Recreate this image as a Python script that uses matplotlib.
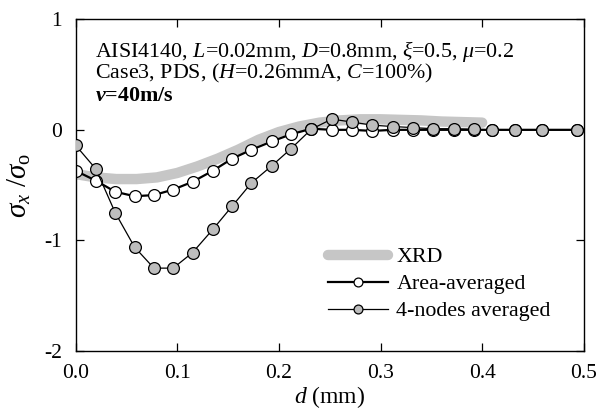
import matplotlib
matplotlib.use('Agg')
import matplotlib.pyplot as plt

plt.rcParams['font.family'] = 'Liberation Serif'
plt.rcParams['mathtext.fontset'] = 'custom'
plt.rcParams['mathtext.rm'] = 'Liberation Serif'
plt.rcParams['mathtext.it'] = 'Liberation Serif:italic'
plt.rcParams['mathtext.bf'] = 'Liberation Serif:bold'
plt.rcParams['mathtext.bfit'] = 'Liberation Serif:bold:italic'
plt.rcParams['axes.unicode_minus'] = False

# XRD measurement (thick grey band)
xrd_d = [0.0, 0.02, 0.04, 0.06, 0.08, 0.10, 0.12, 0.14, 0.16, 0.18, 0.20,
         0.22, 0.24, 0.26, 0.28, 0.30, 0.32, 0.34, 0.36, 0.38, 0.40]
xrd_s = [-0.40, -0.43, -0.445, -0.445, -0.43, -0.39, -0.33, -0.26, -0.18,
         -0.09, -0.02, 0.03, 0.065, 0.085, 0.095, 0.095, 0.09, 0.085, 0.075,
         0.07, 0.065]

# FE node depths
node_d = [0.0, 0.02, 0.039, 0.058, 0.077, 0.096, 0.115, 0.135, 0.154, 0.173,
          0.193, 0.212, 0.232, 0.252, 0.272, 0.292, 0.312, 0.332, 0.352,
          0.372, 0.392, 0.41, 0.432, 0.459, 0.493, 0.5]

area_s = [-0.37, -0.46, -0.56, -0.60, -0.59, -0.54, -0.47, -0.37, -0.26,
          -0.18, -0.105, -0.04, 0.01, 0.0, 0.0, -0.01, 0.0, 0.0, 0.0, 0.0,
          0.0, 0.0, 0.0, 0.0, 0.0, 0.0]

node4_s = [-0.14, -0.355, -0.75, -1.06, -1.25, -1.25, -1.11, -0.90, -0.69,
           -0.48, -0.325, -0.17, 0.006, 0.097, 0.07, 0.042, 0.03, 0.02, 0.01,
           0.01, 0.005, 0.0, 0.0, 0.0, 0.0, 0.0]

x_ticks = [0.0, 0.1, 0.2, 0.3, 0.4, 0.5]
x_labels = ['0.0', '0.1', '0.2', '0.3', '0.4', '0.5']
y_ticks = [-2, -1, 0, 1]
y_labels = ['-2', '-1', '0', '1']

info_lines = ['AISI4140, $L$=0.02mm, $D$=0.8mm, $\\xi$=0.5, $\\mu$=0.2',
              'Case3, PDS, ($H$=0.26mmA, $C$=100%)',
              r'$\mathbfit{v}$=40m/s']

fig = plt.figure(figsize=(6.1, 4.17), dpi=100)
ax = fig.add_axes([0.124, 0.158, 0.833, 0.796])

ax.plot(xrd_d, xrd_s, '-', color='#c6c6c6', lw=7.5,
        solid_capstyle='round', label='XRD', zorder=1)
ax.plot(node_d, area_s, '-o', color='black', lw=1.6, ms=8.5,
        mfc='white', mec='black', mew=0.9, markevery=slice(0, -1),
        label='Area-averaged', zorder=2)
ax.plot(node_d, node4_s, '-o', color='black', lw=0.9, ms=8.5,
        mfc='#bdbdbd', mec='black', mew=0.9, markevery=slice(0, -1),
        label='4-nodes averaged', zorder=3)

ax.set_xlim(0, 0.5)
ax.set_ylim(-2, 1)
ax.set_xticks(x_ticks)
ax.set_xticklabels(x_labels)
ax.set_yticks(y_ticks)
ax.set_yticklabels(y_labels)
ax.tick_params(direction='in', length=6, width=0.9, labelsize=15.5,
               top=True, right=True)
ax.tick_params(axis='x', pad=9)
ax.tick_params(axis='y', pad=10)
for s in ax.spines.values():
    s.set_linewidth(1.0)

ax.set_xlabel('$d$ (mm)', fontsize=17, labelpad=1)
ax.set_ylabel(r'$\sigma_x$ /$\sigma_\mathrm{o}$', fontsize=21, labelpad=8)

for txt, yb, wt in zip(info_lines, [0.886, 0.822, 0.755],
                       ['normal', 'normal', 'bold']):
    ax.text(0.038, yb, txt, transform=ax.transAxes, fontsize=15.8,
            fontweight=wt, va='baseline', ha='left')

ax.legend(loc='upper left', bbox_to_anchor=(0.48, 0.34), borderaxespad=0,
          frameon=False, fontsize=15.8, handlelength=2.7, labelspacing=0.3,
          handletextpad=0.4, markerscale=0.75)

fig.savefig('out.png', dpi=100)
